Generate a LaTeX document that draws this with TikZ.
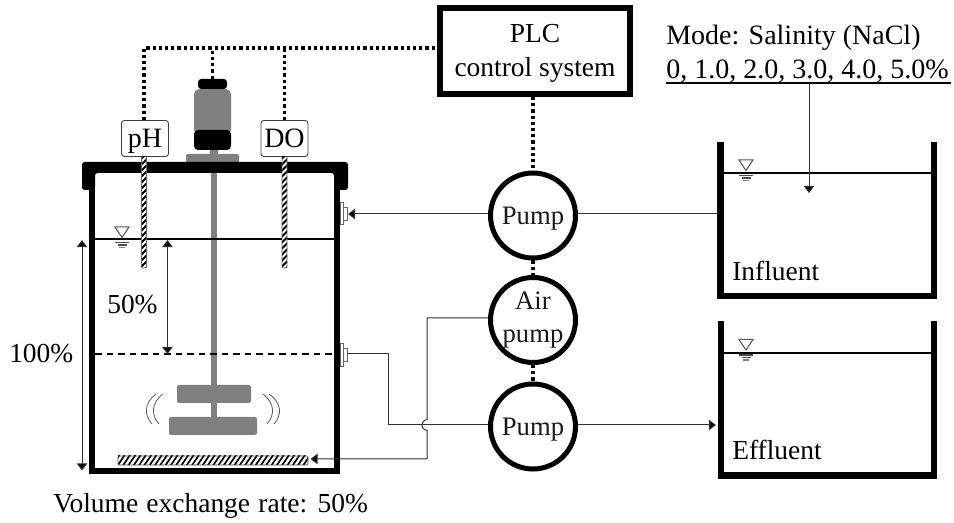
\documentclass[tikz,border=0pt]{standalone}
\usepackage{fontspec}
\setmainfont{Liberation Serif}
\usetikzlibrary{arrows.meta,calc}
\newcommand\pxu{0.75pt}
\newcommand\fs[2]{\fontsize{#1pt}{#2pt}\selectfont}
\newcommand\wsym[2]{%
  \draw[line width=0.75pt,draw=black!65] (#1-7,#2) -- (#1+7,#2) -- (#1,#2+10.5) -- cycle;
  \draw[line width=0.9pt,draw=black!70] (#1-7,#2+15.5) -- (#1+7,#2+15.5) (#1-4.5,#2+18) -- (#1+4.5,#2+18);
  \draw[line width=0.9pt,draw=black!50] (#1-3,#2+20.5) -- (#1+3,#2+20.5);
}
\newcommand\probe[2]{%
  \fill[white] (#1-2.5,#2) rectangle (#1+2.5,268);
  \begin{scope}
    \clip (#1-2.5,#2) rectangle (#1+2.5,268);
    \foreach \yy in {156,162,...,270} {\draw[line width=1.35pt] (#1-4,\yy+4) -- (#1+4,\yy-4);}
  \end{scope}
  \draw[line width=0.5pt,draw=black!60,rounded corners=0.8pt] (#1-2.5,#2) -- (#1-2.5,268) -- (#1+2.5,268) -- (#1+2.5,#2);
}
\tikzset{
  x=0.75pt,y=-0.75pt,
  wall/.style={line width=6.2*\pxu,line cap=butt,line join=miter,draw=black},
  thin line/.style={line width=1*\pxu,draw=black!80},
  arr/.style={thin line,-{Triangle[length=5.4pt,width=8pt,fill=black]}},
  dimarr/.style={thin line,{Triangle[length=5.4pt,width=8pt,fill=black]}-{Triangle[length=5.4pt,width=8pt,fill=black]}},
  signal/.style={line width=3.4*\pxu,draw=black,dash pattern=on 3.2*\pxu off 3*\pxu},
  water/.style={line width=1.5*\pxu,draw=black},
  pumpnode/.style={circle,draw=black,fill=white,line width=5*\pxu,minimum size=85*\pxu,inner sep=0pt,align=center,text=black!90},
  sensor/.style={rectangle,rounded corners=2.2pt,draw=black!75,fill=white,line width=0.7pt,minimum width=47*\pxu,minimum height=36*\pxu,inner sep=0pt,font=\fs{21}{24}},
  gray part/.style={fill=black!50,rounded corners=1.6pt},
  black part/.style={fill=black,rounded corners=3pt},
  txt/.style={inner sep=0pt,font=\fs{20.6}{25},anchor=base west},
  arcline/.style={line width=0.8*\pxu,draw=black!65},
  portpart/.style={line width=0.5pt,draw=black!60,fill=white},
}
\begin{document}
\begin{tikzpicture}
\useasboundingbox (0,0) rectangle (954,523);
% mixer (gray parts)
\fill[black!50] (210.7,150) rectangle (217.4,417);
\fill[black!50] (210,150) rectangle (218,155);
\fill[gray part] (186,154) rectangle (239,163);
\fill[black!50,rounded corners=4pt] (194,89) rectangle (231,135);
\fill[black part] (194,130) rectangle (231,150);
\fill[gray part] (177,385) rectangle (251,403);
\fill[gray part] (169,417) rectangle (257,435);
\node[fill=black,rounded corners=2.4pt,minimum width=29*\pxu,minimum height=10*\pxu,inner sep=0pt] (mcap) at (212.5,84) {};
% main tank
\draw[wall] (92,165) -- (92,471) -- (337,471) -- (337,165);
\fill[black,rounded corners=2pt] (82,162) -- (348,162) -- (348,190) -- (334,190) -- (334,173) -- (95,173) -- (95,190) -- (82,190) -- cycle;
% water levels
\draw[water] (95,239) -- (334,239);
\draw[line width=1.7*\pxu,draw=black,dash pattern=on 6.5*\pxu off 5*\pxu] (95,354) -- (334,354);
\wsym{122}{227}
% sensors
\node[sensor] (ph) at (145,138.5) {\raisebox{-6.4pt}[0pt][0pt]{pH}};
\node[sensor] (do) at (284.5,138.5) {\raisebox{-6.4pt}[0pt][0pt]{DO}};
\probe{144}{157}
\probe{284.5}{157}
% PLC
\node[draw=black,fill=white,line width=6*\pxu,minimum width=190*\pxu,minimum height=86*\pxu,inner sep=0pt] (plc) at (535,51) {};
\node[inner sep=0pt,align=center,font=\fs{20.6}{25.5}] (plctext) at (535,53) {PLC\\control system};
% pumps
\node[pumpnode,font=\fs{20}{24}] (p1) at (533,215.5) {\raisebox{-7.1pt}[0pt][0pt]{Pump}};
\node[pumpnode,font=\fs{20}{24.5}] (p2) at (533,320) {Air\\pump};
\node[pumpnode,font=\fs{20}{24}] (p3) at (533,426.5) {\raisebox{-7.1pt}[0pt][0pt]{Pump}};
% signal lines
\coordinate (busL) at (144,48);
\draw[signal] (ph.north -| busL) -- (busL) -- (plc.west |- busL);
\draw[signal] (do.north) -- (do.north |- busL);
\draw[signal] (mcap.north) -- (mcap.north |- busL);
\draw[signal] (plc.south -| p1.north) -- (p1.north);
\draw[signal] (p1.south) -- (p2.north);
\draw[signal] (p2.south) -- (p3.north);
% ports
\draw[portpart] (340,202) rectangle (343,224);
\draw[portpart] (343,207) rectangle (347,220);
\draw[portpart] (340,343) rectangle (343,366);
\draw[portpart] (343,348) rectangle (347,361);
\coordinate (port1) at (348,214);
\coordinate (port2) at (347,354);
% diffuser
\fill[white] (118,456) rectangle (308,465);
\begin{scope}
  \clip (118,456) rectangle (308,465);
  \foreach \xx in {112,117.3,...,315} {\draw[line width=1.25pt] (\xx,466) -- (\xx+7.5,455);}
\end{scope}
\node[draw=black!70,line width=0.6pt,rounded corners=1pt,minimum width=190*\pxu,minimum height=9*\pxu,inner sep=0pt] (diff) at (213,460.5) {};
% impeller vibration
\draw[arcline] (156,394) .. controls (144,403) and (144,415) .. (152,424);
\draw[arcline] (163,394) .. controls (151,403) and (151,415) .. (159,424);
\draw[arcline] (263,394) .. controls (275,403) and (275,415) .. (267,424);
\draw[arcline] (269,394) .. controls (282,403) and (282,415) .. (274,424);
% flow lines
\draw[arr] (p1.west |- port1) -- (port1);
\coordinate (infl) at (717,214);
\draw[thin line] (p1.east |- infl) -- (infl);
\coordinate (c1) at (388,354);
\coordinate (c2) at (388,425);
\draw[thin line] (port2) -- (c1) -- (c2) -- (p3.west |- c2);
\coordinate (a1) at (427,318);
\coordinate (a2) at (427,459);
\coordinate (difft) at (310.5,459);
\draw[arr] (p2.west |- a1) -- (a1) -- (427,419.5) .. controls (420,421) and (420,429) .. (427,430.5) -- (a2) -- (difft);
\coordinate (effl) at (716,425);
\draw[arr] (p3.east |- effl) -- (effl);
% level dimensions
\coordinate (d1t) at (82,240);
\coordinate (d1b) at (82,470.5);
\draw[dimarr] (d1t) -- (d1b);
\coordinate (d2t) at (167.5,240);
\coordinate (d2b) at (167.5,354);
\draw[dimarr] (d2t) -- (d2b);
% right tanks
\draw[wall] (720.5,142) -- (720.5,296) -- (934,296) -- (934,142);
\draw[water] (724,173) -- (931,173);
\wsym{746}{160}
\draw[wall] (721,321) -- (721,475.5) -- (934,475.5) -- (934,321);
\draw[water] (724,353) -- (931,353);
\wsym{746}{339.5}
% texts
\node[txt,font=\fs{21}{25}] (mode) at (666,45) {Mode: Salinity (NaCl)};
\node[txt,font=\fs{21}{25}] (rates) at (666,79) {0, 1.0, 2.0, 3.0, 4.0, 5.0\%};
\draw[line width=1.5*\pxu,draw=black] (rates.base west) ++(0,4) coordinate (ul1) -- (951,83) coordinate (ul2);
\coordinate (saltin) at (809,193);
\draw[arr] (saltin |- ul2) -- (saltin);
\node[txt] (tinf) at (732,281) {Influent};
\node[txt] (teff) at (732,460) {Effluent};
\node[txt] (t100) at (9,363) {100\%};
\node[txt] (t50) at (107,314) {50\%};
\node[txt] (tvol) at (53,513) {\spaceskip=0.3em\relax Volume exchange rate: 50\%};
\end{tikzpicture}
\end{document}
